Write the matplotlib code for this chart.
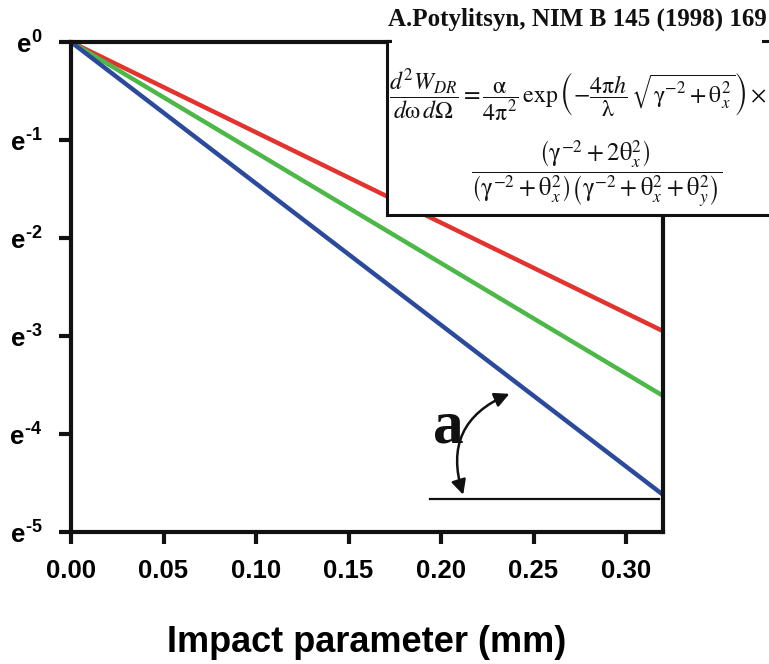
import numpy as np
from matplotlib import pyplot as plt
from matplotlib.patches import Rectangle

plt.rcParams['font.family'] = ['Liberation Sans', 'DejaVu Sans']
plt.rcParams['mathtext.fontset'] = 'custom'
plt.rcParams['mathtext.rm'] = 'Liberation Sans:bold'
plt.rcParams['mathtext.it'] = 'Liberation Sans:bold'
plt.rcParams['mathtext.bf'] = 'Liberation Sans:bold'

# impact parameter (mm) and ln of the normalised yield
x_imp = [0.0, 0.32]
ln_red = [0.0, -2.95]
ln_green = [0.0, -3.61]
ln_blue = [0.0, -4.62]

x_ticks = [0.00, 0.05, 0.10, 0.15, 0.20, 0.25, 0.30]
y_powers = [0, -1, -2, -3, -4, -5]

# reference horizontal line and angle arrow
hline_x = [0.194, 0.318]
hline_ln = -4.66

fig = plt.figure(figsize=(7.69, 6.64), dpi=100)
ax = fig.add_axes([71 / 769, 1 - 532 / 664, (663 - 71) / 769, (532 - 42) / 664])

ax.plot(x_imp, np.exp(ln_red), color='#e2332f', lw=3.2, solid_capstyle='butt')
ax.plot(x_imp, np.exp(ln_green), color='#4cb848', lw=3.2, solid_capstyle='butt')
ax.plot(x_imp, np.exp(ln_blue), color='#2c4a9c', lw=3.2, solid_capstyle='butt')

ax.plot(hline_x, np.exp([hline_ln, hline_ln]), color='#111111', lw=1.6)

ax.annotate('', xy=(0.212, np.exp(-4.62)), xytext=(0.237, np.exp(-3.59)),
            arrowprops=dict(arrowstyle='<|-|>', connectionstyle='arc3,rad=0.45',
                            color='#111111', lw=1.8, mutation_scale=22,
                            shrinkA=0, shrinkB=0))
ax.text(0.204, np.exp(-4.09), 'a', family='Liberation Serif', weight='bold',
        fontsize=44, ha='center', va='baseline', color='#111111')

ax.set_yscale('log', base=np.e)
ax.set_xlim(0, 0.32)
ax.set_ylim(np.exp(-5), 1.0)
ax.set_xticks(x_ticks)
ax.set_xticklabels(['%.2f' % v for v in x_ticks], fontsize=18.5, weight='bold')
ax.set_yticks([np.exp(p) for p in y_powers])
ax.set_yticklabels([r'$e^{%s}$' % (('\u2010' + str(-p)) if p < 0 else str(p)) for p in y_powers],
                   fontsize=18.5)
ax.minorticks_off()
ax.yaxis.set_minor_locator(plt.NullLocator())

for s in ax.spines.values():
    s.set_linewidth(3.0)
    s.set_color('#111111')
ax.tick_params(axis='both', direction='out', length=8.5, width=3.0, color='#111111')
ax.tick_params(axis='x', pad=11)
ax.tick_params(axis='y', pad=12)

ax.set_xlabel('Impact parameter (mm)', fontsize=26, weight='bold', labelpad=30)

# inset box with the formula
box = fig.add_axes([387 / 769, 1 - 215 / 664, 0.6, (215 - 41) / 664])
box.set_xticks([])
box.set_yticks([])
box.set_facecolor('white')
for s in box.spines.values():
    s.set_linewidth(2.2)
    s.set_color('#111111')

fig.patches.append(Rectangle((392 / 769, 1 - 44 / 664), (762 - 392) / 769, 44 / 664,
                             transform=fig.transFigure, facecolor='white',
                             edgecolor='none', zorder=1))

fig.text(577 / 769, 1 - 19 / 664, 'A.Potylitsyn, NIM B 145 (1998) 169',
         family='Liberation Serif', weight='bold', fontsize=18,
         ha='center', va='center', color='#111111')

g = r'\mathrm{\gamma}'
t = r'\mathrm{\theta}'
line1 = (r'$\dfrac{d^{2}W_{DR}}{d\mathrm{\omega}\,d\Omega}=\dfrac{\mathrm{\alpha}}{4\mathrm{\pi}^{2}}\,'
         r'\exp\left(-\dfrac{4\mathrm{\pi}h}{\mathrm{\lambda}}\,\sqrt{' + g + r'^{-2}+' + t + r'_{x}^{2}}\right)\times$')
line2 = (r'$\dfrac{\left(' + g + r'^{-2}+2' + t + r'_{x}^{2}\right)}'
         r'{\left(' + g + r'^{-2}+' + t + r'_{x}^{2}\right)\left(' + g + r'^{-2}+' + t + r'_{x}^{2}+'
         + t + r'_{y}^{2}\right)}$')
fig.text(578 / 769, 1 - 96 / 664, line1, math_fontfamily='stix', fontsize=17.2,
         ha='center', va='center', color='#111111')
fig.text(597 / 769, 1 - 174 / 664, line2, math_fontfamily='stix', fontsize=17.8,
         ha='center', va='center', color='#111111')

fig.savefig('out.png', dpi=100)
